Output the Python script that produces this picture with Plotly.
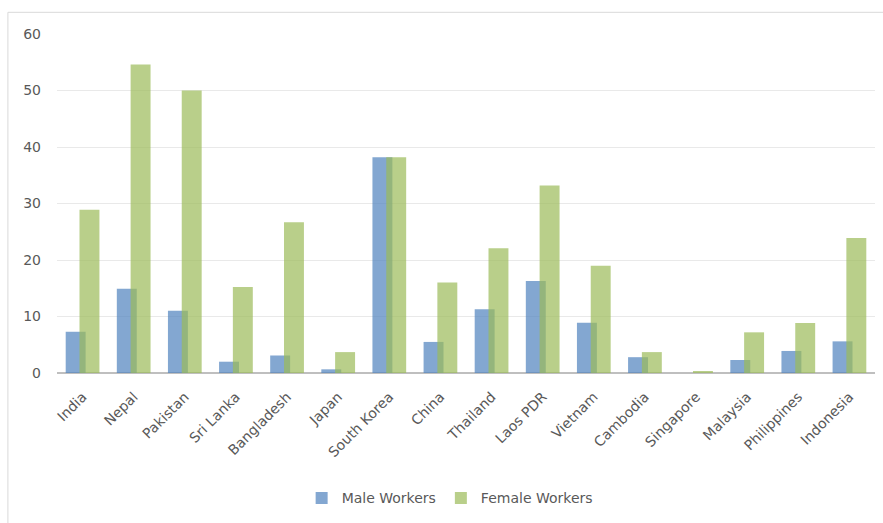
import plotly.graph_objects as go

countries = ["India", "Nepal", "Pakistan", "Sri Lanka", "Bangladesh", "Japan", "South Korea",
             "China", "Thailand", "Laos PDR", "Vietnam", "Cambodia", "Singapore", "Malaysia",
             "Philippines", "Indonesia"]
male = [7.3, 14.9, 11.0, 2.0, 3.1, 0.65, 38.2, 5.5, 11.3, 16.3, 8.9, 2.8, 0.0, 2.3, 3.9, 5.6]
female = [28.9, 54.6, 50.0, 15.2, 26.7, 3.7, 38.2, 16.0, 22.1, 33.2, 19.0, 3.7, 0.35, 7.2, 8.85, 23.9]
yticks = [0, 10, 20, 30, 40, 50, 60]

FONT = "DejaVu Sans, Verdana, sans-serif"

fig = go.Figure()
fig.add_trace(go.Bar(x=countries, y=male, name="Male Workers",
                     marker=dict(color="rgba(79,129,189,0.7)", line=dict(width=0)),
                     width=0.39, offset=-0.33))
fig.add_trace(go.Bar(x=countries, y=female, name="Female Workers",
                     marker=dict(color="rgba(155,187,89,0.7)", line=dict(width=0)),
                     width=0.39, offset=-0.06))

fig.update_layout(
    width=883, height=523,
    barmode="overlay",
    paper_bgcolor="white", plot_bgcolor="white",
    margin=dict(l=57, r=8, t=34, b=150),
    font=dict(family=FONT, size=14, color="#595959"),
    xaxis=dict(tickangle=-45, showgrid=False, showline=False, ticks="",
               tickfont=dict(family=FONT, size=14, color="#595959"), ticklabelstandoff=12),
    yaxis=dict(range=[0, 60], tickvals=yticks, showgrid=True, gridcolor="#E9E9E9",
               gridwidth=1, zeroline=True, zerolinecolor="#BFBFBF", zerolinewidth=2,
               ticks="", tickfont=dict(family=FONT, size=14, color="#595959"),
               ticklabelstandoff=15),
    legend=dict(orientation="h", x=0.48, xanchor="center", y=-0.37, yanchor="middle",
                font=dict(family=FONT, size=14, color="#595959"), itemwidth=30,
                tracegroupgap=0),
    showlegend=True,
    shapes=[dict(type="rect", xref="paper", yref="paper", x0=-0.06, x1=1.05,
                 y0=-0.6, y1=1.064, line=dict(color="#D9D9D9", width=1),
                 fillcolor="rgba(0,0,0,0)", layer="below")],
)

fig.write_html("out.html")
